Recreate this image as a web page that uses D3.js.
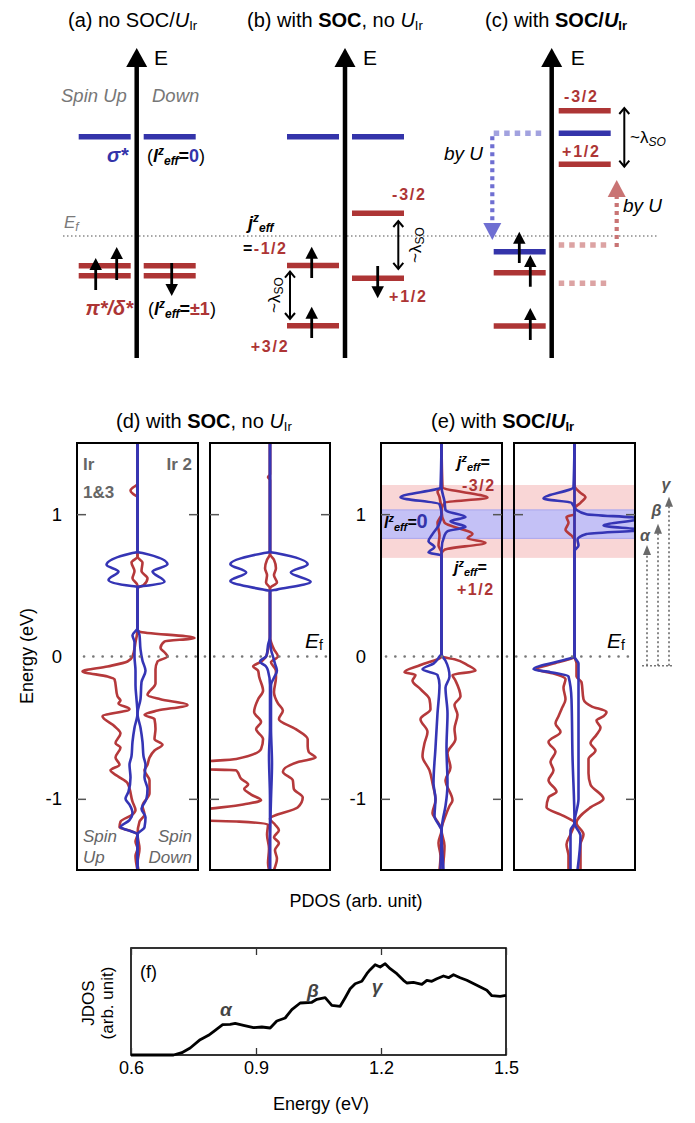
<!DOCTYPE html>
<html><head><meta charset="utf-8">
<script src="https://cdn.jsdelivr.net/npm/d3@7"></script>
<style>body{margin:0;background:#fff} svg{display:block} text{font-family:"Liberation Sans",Arial,Helvetica,sans-serif}</style>
</head><body><svg id="c" width="695" height="1123"></svg>
<script>
// ---------------- DATA ----------------
// Schematic level energies (arb. units, Ef = 0, sigma* = 1)  [side, energy, kind]
const levelsA = [["L",1.0,"b"],["R",1.0,"b"],["L",-0.30,"r"],["R",-0.30,"r"],["L",-0.40,"r"],["R",-0.40,"r"]];
const levelsB = [["L",1.0,"b"],["R",1.0,"b"],["R",0.229,"r"],["R",-0.426,"r"],["L",-0.297,"r"],["L",-0.903,"r"]];
const levelsC = [["R",1.262,"r"],["R",1.034,"b"],["R",0.722,"r"],["L",-0.158,"b"],["L",-0.370,"r"],["L",-0.906,"r"]];
const dashedC = [["L",1.034,"b"],["R",-0.091,"r"],["R",-0.476,"r"]];
// spin arrows: [offset from axis, E from, E to]
const spinA = [[-41,-0.544,-0.221],[-20,-0.443,-0.111],[35,-0.272,-0.604]];
const spinB = [[-33.3,-0.423,-0.108],[-33.3,-1.027,-0.712],[32.7,-0.302,-0.627]];
const spinC = [[-32.4,-0.272,0.043],[-21.4,-0.511,-0.191],[-21.4,-1.047,-0.725]];
const lambdaB = [[-55,-0.349,-0.846],[53.3,0.161,-0.342]];
const lambdaC = [[72.6,1.299,0.688]];
const byU = [[-59.4,1.034,-0.040,"b"],[65,-0.141,0.564,"r"]];
const axisE = [-1.229, 1.893];

// PDOS curves [energy eV, DOS arb.]  (spin up drawn to the left, spin down to the right)
const dIr13RedUp = [[1.5,0],[1.21,0],[1.19,4],[1.165,7],[1.14,4],[1.12,0],[0.70,0],[0.66,6],[0.6,3],[0.55,5],[0.50,0],[0.19,0],[0.10,2],[0.0,5],[-0.035,10],[-0.07,30],[-0.105,55],[-0.14,30],[-0.16,23],[-0.28,20],[-0.31,17],[-0.33,19],[-0.37,8],[-0.42,35],[-0.49,23],[-0.54,17],[-0.61,22],[-0.64,17],[-0.71,22],[-0.76,18],[-0.80,27],[-0.84,20],[-0.89,10],[-1.02,5],[-1.08,2],[-1.11,5],[-1.16,17],[-1.2,18],[-1.23,5],[-1.25,0],[-1.3,2],[-1.35,0],[-1.4,2],[-1.5,0]];
const dIr13RedDown = [[1.5,0],[0.70,0],[0.66,5],[0.6,4],[0.55,10],[0.5,6],[0.48,0],[0.19,0],[0.175,2],[0.13,57],[0.105,27],[0.06,23],[0.03,27],[0.0,30],[-0.035,20],[-0.09,18],[-0.19,18],[-0.27,10],[-0.30,23],[-0.34,50],[-0.38,20],[-0.41,7],[-0.44,17],[-0.51,18],[-0.58,17],[-0.62,25],[-0.66,17],[-0.71,12],[-0.76,10],[-0.80,7],[-0.87,12],[-0.96,12],[-1.05,5],[-1.11,7],[-1.16,2],[-1.25,0],[-1.35,2],[-1.45,0],[-1.5,1]];
const dIr13BlueUp = [[1.5,0],[0.735,0],[0.726,6],[0.644,31],[0.597,19],[0.538,29],[0.495,6],[0.49,0],[0.2,0],[0.15,5],[0.1,3],[0.0,3],[-0.1,2],[-0.2,2],[-0.3,1],[-0.4,0],[-0.5,3],[-0.6,5],[-0.7,6],[-0.76,8],[-0.85,7],[-0.95,9],[-1.0,12],[-1.04,8],[-1.1,5],[-1.15,8],[-1.2,17],[-1.22,10],[-1.25,0],[-1.5,0]];
const dIr13BlueDown = [[1.5,0],[0.735,0],[0.726,6],[0.648,30],[0.597,15],[0.526,27],[0.495,6],[0.49,0],[0.2,0],[0.15,2],[0.05,3],[-0.03,5],[-0.1,8],[-0.18,4],[-0.3,3],[-0.4,0],[-0.5,3],[-0.6,5],[-0.7,6],[-0.76,8],[-0.85,7],[-0.93,10],[-1.0,9],[-1.07,4],[-1.13,8],[-1.2,7],[-1.25,0],[-1.5,0]];

const dIr2RedUp = [[1.5,0],[1.28,0],[1.26,2],[1.24,0],[0.72,0],[0.68,3],[0.62,5],[0.57,3],[0.52,4],[0.48,0],[0.14,0],[0.05,2],[0.0,4],[-0.04,10],[-0.07,17],[-0.1,12],[-0.14,11],[-0.24,7],[-0.3,12],[-0.39,16],[-0.46,9],[-0.51,14],[-0.58,7],[-0.65,9],[-0.72,34],[-0.745,75],[-0.79,75],[-0.80,34],[-0.86,29],[-0.9,22],[-0.93,26],[-0.97,19],[-1.01,9],[-1.04,27],[-1.09,75],[-1.15,75],[-1.16,31],[-1.18,2],[-1.25,3],[-1.35,1],[-1.45,2],[-1.5,1]];
const dIr2RedDown = [[1.5,0],[0.72,0],[0.68,4],[0.62,6],[0.57,4],[0.52,7],[0.48,0],[0.14,0],[0.05,4],[0.0,8],[-0.04,1],[-0.1,6],[-0.15,6],[-0.25,4],[-0.33,8],[-0.38,13],[-0.44,9],[-0.51,26],[-0.58,38],[-0.63,38],[-0.67,39],[-0.71,46],[-0.74,29],[-0.81,13],[-0.87,23],[-0.93,24],[-0.99,33],[-1.06,28],[-1.14,0],[-1.18,5],[-1.22,9],[-1.27,4],[-1.31,9],[-1.36,5],[-1.42,7],[-1.5,4]];
const dIr2BlueUp = [[1.5,0],[0.735,0],[0.726,7],[0.649,40],[0.59,24],[0.53,40],[0.47,7],[0.46,0],[0.14,0],[0.08,2],[0.02,3],[0.0,4],[-0.035,10],[-0.07,4],[-0.1,2],[-0.2,0],[-0.5,0],[-0.7,1],[-1.0,0],[-1.5,0]];
const dIr2BlueDown = [[1.5,0],[0.735,0],[0.726,7],[0.649,38],[0.59,21],[0.525,41],[0.47,7],[0.46,0],[0.14,0],[0.05,1],[0.0,3],[-0.05,5],[-0.1,7],[-0.15,4],[-0.2,1],[-0.5,1],[-0.75,2],[-1.0,1],[-1.3,0],[-1.5,0]];

const eIr13RedUp = [[1.5,0],[1.19,0],[1.16,4],[1.12,2],[1.0,0],[0.94,4],[0.85,2],[0.78,3],[0.73,0],[0.0,0],[-0.06,21],[-0.11,37],[-0.13,26],[-0.17,29],[-0.23,21],[-0.30,12],[-0.37,11],[-0.44,21],[-0.53,14],[-0.61,17],[-0.70,19],[-0.80,12],[-0.89,9],[-1.01,6],[-1.1,9],[-1.16,4],[-1.22,0],[-1.31,3],[-1.4,1],[-1.5,2]];
const eIr13RedDown = [[1.5,0],[1.19,1],[1.115,46],[1.08,3],[1.02,0],[0.94,3],[0.86,31],[0.83,26],[0.80,44],[0.75,3],[0.72,0],[0.0,0],[-0.02,13],[-0.06,26],[-0.10,34],[-0.13,11],[-0.17,14],[-0.28,19],[-0.34,13],[-0.41,16],[-0.51,13],[-0.58,14],[-0.68,6],[-0.78,9],[-0.87,4],[-1.01,11],[-1.05,8],[-1.12,4],[-1.22,0],[-1.33,3],[-1.5,1]];
const eIr13BlueUp = [[1.5,0],[1.19,1],[1.118,41],[1.07,2],[1.0,0],[0.92,3],[0.86,9],[0.81,13],[0.77,7],[0.73,13],[0.71,0],[0.02,0],[0.0,2],[-0.05,8],[-0.09,19],[-0.13,4],[-0.2,2],[-0.4,4],[-0.64,6],[-0.89,8],[-1.0,6],[-1.12,7],[-1.19,2],[-1.22,0],[-1.5,1]];
const eIr13BlueDown = [[1.5,0],[1.19,0],[1.09,3],[1.03,4],[1.02,6],[0.98,24],[0.95,9],[0.91,24],[0.88,6],[0.85,3],[0.75,0],[0.02,0],[0.0,1],[-0.03,4],[-0.14,8],[-0.22,4],[-0.4,6],[-0.64,5],[-0.89,6],[-1.05,4],[-1.16,1],[-1.22,0],[-1.5,2]];

const eIr2RedUp = [[1.5,0],[1.0,0],[0.98,8],[0.94,6],[0.89,9],[0.85,3],[0.82,0],[0.0,0],[-0.05,21],[-0.09,38],[-0.12,21],[-0.16,9],[-0.22,11],[-0.3,9],[-0.37,13],[-0.42,16],[-0.47,19],[-0.53,14],[-0.60,26],[-0.67,19],[-0.74,24],[-0.80,21],[-0.87,26],[-0.95,18],[-0.99,26],[-1.06,28],[-1.12,11],[-1.17,0],[-1.25,4],[-1.32,8],[-1.4,6],[-1.5,6]];
const eIr2RedDown = [[1.5,0],[1.2,0],[1.15,6],[1.12,11],[1.08,6],[1.04,0],[0.0,0],[-0.05,2],[-0.14,2],[-0.18,7],[-0.3,9],[-0.35,17],[-0.39,32],[-0.42,29],[-0.45,22],[-0.5,26],[-0.55,22],[-0.61,16],[-0.66,21],[-0.72,14],[-0.82,14],[-0.9,16],[-1.0,29],[-1.06,16],[-1.17,2],[-1.25,9],[-1.32,6],[-1.5,6]];
const eIr2BlueUp = [[1.5,0],[1.19,1],[1.11,31],[1.08,3],[1.03,0],[0.02,0],[0.0,0],[-0.02,8],[-0.09,41],[-0.11,24],[-0.14,6],[-0.3,3],[-0.7,2],[-1.17,0],[-1.22,4],[-1.5,4]];
const eIr2BlueDown = [[1.5,0],[1.05,0],[1.03,2],[1.0,12],[0.97,66],[0.92,29],[0.89,66],[0.86,12],[0.82,3],[0.78,4],[0.74,0],[0.0,0],[-0.05,4],[-0.3,4],[-0.7,4],[-1.0,4],[-1.17,0],[-1.26,6],[-1.5,3]];

// bands in (e) [E top, E bottom, kind]
const bandsE = [[1.205,0.693,"pink"],[1.03,0.83,"blue"]];
// optical transitions alpha, beta, gamma: [E final]
const transBase = -0.065;
const transE = [0.784, 0.932, 1.122];
const transLab = ["α","β","γ"];

// JDOS
const jdosE = [0.6,0.702,0.722,0.742,0.766,0.786,0.802,0.820,0.838,0.85,0.870,0.894,0.914,0.934,0.950,0.970,0.986,1.006,1.034,1.046,1.066,1.082,1.102,1.114,1.126,1.138,1.154,1.166,1.174,1.186,1.198,1.210,1.222,1.238,1.254,1.262,1.278,1.298,1.310,1.322,1.334,1.350,1.362,1.374,1.390,1.406,1.430,1.454,1.466,1.486,1.5];
const jdosV = [0,0,0.023,0.07,0.153,0.197,0.247,0.303,0.307,0.317,0.297,0.273,0.28,0.27,0.34,0.37,0.453,0.52,0.527,0.557,0.573,0.497,0.487,0.573,0.663,0.713,0.737,0.813,0.853,0.903,0.88,0.913,0.863,0.813,0.747,0.72,0.727,0.707,0.747,0.737,0.763,0.79,0.773,0.803,0.773,0.747,0.697,0.647,0.593,0.587,0.597];
const jdosTicks = [0.6,0.9,1.2,1.5];
const pdosTicks = [-1,0,1];

// ---------------- DRAW ----------------
const RED = "#ad3535", BLUE = "#3434aa", PRED = "#b5393b", PBLUE = "#3535b5";
const svg = d3.select("#c");

function rich(parent, x, y, parts, base, transform) {
  const t = parent.append("text").attr("x", x).attr("y", y)
    .attr("font-size", base.size).attr("font-weight", base.w || "normal")
    .attr("font-style", base.i ? "italic" : "normal").attr("fill", base.c || "#000")
    .attr("text-anchor", base.anchor || "start");
  if (base.ls) t.attr("letter-spacing", base.ls);
  if (transform) t.attr("transform", transform);
  let cur = 0;
  parts.forEach(p => {
    if (typeof p === "string") p = {t: p};
    const sh = p.sh || 0;
    const ts = t.append("tspan").text(p.t);
    if (sh !== cur) { ts.attr("dy", sh - cur); cur = sh; }
    if (p.s) ts.attr("font-size", p.s);
    if (p.w) ts.attr("font-weight", p.w);
    if (p.i !== undefined) ts.attr("font-style", p.i ? "italic" : "normal");
    if (p.c) ts.attr("fill", p.c);
  });
  return t;
}
function arrow(g, x, y0, y1, color, lw, hw, hh, dash) {
  const dir = y1 < y0 ? -1 : 1;
  const l = g.append("line").attr("x1", x).attr("x2", x).attr("y1", y0).attr("y2", y1 - dir * hh * 0.9)
    .attr("stroke", color).attr("stroke-width", lw);
  if (dash) l.attr("stroke-dasharray", dash);
  g.append("path").attr("d", `M${x},${y1}L${x - hw / 2},${y1 - dir * hh}L${x + hw / 2},${y1 - dir * hh}Z`).attr("fill", color);
}
function dbl(g, x, y0, y1) {
  const a = Math.min(y0, y1), b = Math.max(y0, y1);
  g.append("line").attr("x1", x).attr("x2", x).attr("y1", a + 1).attr("y2", b - 1).attr("stroke", "#000").attr("stroke-width", 2);
  g.append("path").attr("d", `M${x - 5},${a + 7}L${x},${a + 1}L${x + 5},${a + 7}M${x - 5},${b - 7}L${x},${b - 1}L${x + 5},${b - 7}`)
    .attr("fill", "none").attr("stroke", "#000").attr("stroke-width", 2);
}

// --- schematic panels ---
const yS = d3.scaleLinear().domain([0, 1]).range([236, 136.7]);
const seg = (ax, side) => side === "L" ? [ax - 58, ax - 6] : [ax + 7, ax + 59];
const topG = svg.append("g");
// Ef dotted line
topG.append("line").attr("x1", 63).attr("x2", 658).attr("y1", yS(0)).attr("y2", yS(0))
  .attr("stroke", "#8a8a8a").attr("stroke-width", 1.3).attr("stroke-dasharray", "1.5,2.5");

const schem = [
  {ax: 136.7, lv: levelsA, sp: spinA, lam: []},
  {ax: 345, lv: levelsB, sp: spinB, lam: lambdaB},
  {ax: 551.7, lv: levelsC, sp: spinC, lam: lambdaC}
];
// dashed (c)
dashedC.forEach(d => {
  const s = seg(551.7, d[0]);
  topG.append("line").attr("x1", s[0]).attr("x2", s[1]).attr("y1", yS(d[1])).attr("y2", yS(d[1]))
    .attr("stroke", d[2] === "b" ? "#a2a2df" : "#dca3a3").attr("stroke-width", 5.5).attr("stroke-dasharray", "5.5,5");
});
byU.forEach(d => {
  const col = d[3] === "b" ? "#6f6fd2" : "#c97474";
  const x = 551.7 + d[0];
  arrow(topG, x, yS(d[1]) + (d[3] === "b" ? 3 : -3), yS(d[2]), col, 4.2, 18, 17, "4,4");
});
schem.forEach(p => {
  topG.append("line").attr("x1", p.ax).attr("x2", p.ax).attr("y1", yS(axisE[0])).attr("y2", yS(axisE[1]) + 16)
    .attr("stroke", "#000").attr("stroke-width", 4.5);
  topG.append("path").attr("d", `M${p.ax},${yS(axisE[1])}L${p.ax - 10.5},${yS(axisE[1]) + 19}L${p.ax + 10.5},${yS(axisE[1]) + 19}Z`).attr("fill", "#000");
  p.lv.forEach(d => {
    const s = seg(p.ax, d[0]);
    topG.append("line").attr("x1", s[0]).attr("x2", s[1]).attr("y1", yS(d[1])).attr("y2", yS(d[1]))
      .attr("stroke", d[2] === "b" ? BLUE : RED).attr("stroke-width", 5.5);
  });
  p.sp.forEach(d => arrow(topG, p.ax + d[0], yS(d[1]), yS(d[2]), "#000", 2.8, 12.5, 12));
  p.lam.forEach(d => dbl(topG, p.ax + d[0], yS(d[1]), yS(d[2])));
});

// titles
rich(svg, 68, 27, ["(a) no SOC/", {t: "U", i: true}, {t: "Ir", s: 13, sh: 3}], {size: 20});
rich(svg, 247, 27, ["(b) with ", {t: "SOC", w: "bold"}, ", no ", {t: "U", i: true}, {t: "Ir", s: 13, sh: 3}], {size: 20});
rich(svg, 485, 27, ["(c) with ", {t: "SOC/", w: "bold"}, {t: "U", w: "bold", i: true}, {t: "Ir", w: "bold", s: 13, sh: 3}], {size: 20});
[154, 363, 570.7].forEach(x => rich(svg, x, 65, ["E"], {size: 21}));
// (a) labels
rich(svg, 61, 102, ["Spin Up"], {size: 18.5, i: true, c: "#777"});
rich(svg, 152, 102, ["Down"], {size: 18.5, i: true, c: "#777"});
rich(svg, 128, 162, ["σ*"], {size: 20, w: "bold", i: true, c: BLUE, anchor: "end"});
rich(svg, 147, 162, ["(", {t: "l", w: "bold", i: true}, {t: "z", w: "bold", i: true, s: 12, sh: -7}, {t: "eff", w: "bold", i: true, s: 12, sh: 3}, {t: "=", w: "bold"}, {t: "0", w: "bold", c: BLUE}, ")"], {size: 18});
rich(svg, 64, 228, ["E", {t: "f", s: 12, sh: 3}], {size: 17, i: true, c: "#7a7a7a"});
rich(svg, 133, 315, ["π*/δ*"], {size: 20, w: "bold", i: true, c: RED, anchor: "end"});
rich(svg, 148, 315, ["(", {t: "l", w: "bold", i: true}, {t: "z", w: "bold", i: true, s: 12, sh: -7}, {t: "eff", w: "bold", i: true, s: 12, sh: 3}, {t: "=", w: "bold"}, {t: "±1", w: "bold", c: RED}, ")"], {size: 18});
// (b) labels
rich(svg, 392, 200, ["-3/2"], {size: 16, w: "bold", c: RED, ls: 1.8});
rich(svg, 389, 302, ["+1/2"], {size: 16, w: "bold", c: RED, ls: 1.8});
rich(svg, 250.7, 352, ["+3/2"], {size: 16, w: "bold", c: RED, ls: 1.8});
rich(svg, 248, 229, [{t: "j"}, {t: "z", s: 12, sh: -7}, {t: "eff", s: 12, sh: 3}], {size: 18, w: "bold", i: true});
rich(svg, 243, 254, [{t: "="}, {t: "-1/2", c: RED}], {size: 16, w: "bold", ls: 1.5});
rich(svg, 0, 0, ["~λ", {t: "SO", s: 12, sh: 3}], {size: 17, anchor: "middle"}, "translate(280,295) rotate(-90)");
rich(svg, 0, 0, ["~λ", {t: "SO", s: 12, sh: 3}], {size: 17, anchor: "middle"}, "translate(421,245) rotate(-90)");
// (c) labels
rich(svg, 564, 102, ["-3/2"], {size: 16, w: "bold", c: RED, ls: 1.8});
rich(svg, 562, 157, ["+1/2"], {size: 16, w: "bold", c: RED, ls: 1.8});
rich(svg, 630, 143, ["~λ", {t: "SO", s: 12, i: true, sh: 3}], {size: 17});
rich(svg, 483, 160, ["by U"], {size: 19, i: true, anchor: "end"});
rich(svg, 623, 212, ["by U"], {size: 19, i: true});

// --- PDOS panels ---
const yP = d3.scaleLinear().domain([-1.5, 1.5]).range([870, 443]);
const boxes = [
  {x0: 77, x1: 198, s: [dIr13RedUp, dIr13RedDown, dIr13BlueUp, dIr13BlueDown], lab: true},
  {x0: 210, x1: 330, s: [dIr2RedUp, dIr2RedDown, dIr2BlueUp, dIr2BlueDown]},
  {x0: 381, x1: 502, s: [eIr13RedUp, eIr13RedDown, eIr13BlueUp, eIr13BlueDown], lab: true},
  {x0: 514, x1: 635, s: [eIr2RedUp, eIr2RedDown, eIr2BlueUp, eIr2BlueDown]}
];
const pg = svg.append("g");
// bands (e)
bandsE.forEach(b => {
  pg.append("rect").attr("x", 381).attr("width", 635 - 381).attr("y", yP(b[0])).attr("height", yP(b[1]) - yP(b[0]))
    .attr("fill", b[2] === "pink" ? "#f9d6d6" : "#c4c1f6").attr("stroke", b[2] === "pink" ? "none" : "#aaa6ee").attr("stroke-width", 1);
});
boxes.forEach((b, i) => {
  const xs = d3.scaleLinear().domain([-60.5, 60.5]).range([b.x0, b.x1]);
  const cid = "clip" + i;
  svg.append("clipPath").attr("id", cid).append("rect").attr("x", b.x0).attr("y", 443).attr("width", b.x1 - b.x0).attr("height", 427);
  const g = pg.append("g").attr("clip-path", `url(#${cid})`);
  b.s.forEach((arr, k) => {
    const sign = (k % 2 === 0) ? -1 : 1;
    const line = d3.line().x(d => xs(sign * d[1])).y(d => yP(d[0])).curve(d3.curveMonotoneY);
    g.append("path").attr("d", line(arr)).attr("fill", "none")
      .attr("stroke", k < 2 ? PRED : PBLUE).attr("stroke-width", 2.6).attr("stroke-linejoin", "round");
  });
  pg.append("rect").attr("x", b.x0).attr("y", 443).attr("width", b.x1 - b.x0).attr("height", 427)
    .attr("fill", "none").attr("stroke", "#000").attr("stroke-width", 2);
  const al = d3.axisLeft(yP).tickValues(pdosTicks).tickSize(-9).tickPadding(15).tickFormat(b.lab ? (d => String(d)) : "");
  const gl = pg.append("g").attr("transform", `translate(${b.x0},0)`).call(al);
  const ar = d3.axisRight(yP).tickValues(pdosTicks).tickSize(-9).tickFormat("");
  const gr = pg.append("g").attr("transform", `translate(${b.x1},0)`).call(ar);
  [gl, gr].forEach(gg => {
    gg.select(".domain").remove();
    gg.selectAll(".tick line").attr("stroke", "#555").attr("stroke-width", 1.5);
    gg.selectAll(".tick").filter(d => d === 0).select("line").remove();
    gg.selectAll("text").attr("font-size", 18.5).attr("fill", "#000").attr("font-family", '"Liberation Sans",Arial,sans-serif');
  });
});
// zero lines
[[84, 330], [386, 633]].forEach(s => {
  pg.append("line").attr("x1", s[0]).attr("x2", s[1]).attr("y1", yP(0)).attr("y2", yP(0))
    .attr("stroke", "#777").attr("stroke-width", 2.6).attr("stroke-linecap", "round").attr("stroke-dasharray", "0.1,9.2");
});
// transitions
const tx = [647, 658, 669];
pg.append("line").attr("x1", 642).attr("x2", 674).attr("y1", yP(transBase)).attr("y2", yP(transBase))
  .attr("stroke", "#777").attr("stroke-width", 1.6).attr("stroke-dasharray", "2,2");
transE.forEach((e, i) => {
  arrow(pg, tx[i], yP(transBase), yP(e), "#6a6a6a", 1.6, 8, 10, "2,2.5");
});
rich(svg, 645, 541, [transLab[0]], {size: 16, w: "bold", i: true, c: "#555", anchor: "middle"});
rich(svg, 656.5, 516, [transLab[1]], {size: 16, w: "bold", i: true, c: "#555", anchor: "middle"});
rich(svg, 666, 490, [transLab[2]], {size: 16, w: "bold", i: true, c: "#555", anchor: "middle"});

// titles and labels
rich(svg, 116, 428, ["(d) with ", {t: "SOC", w: "bold"}, ", no ", {t: "U", i: true}, {t: "Ir", s: 13, sh: 3}], {size: 20});
rich(svg, 431, 428, ["(e) with ", {t: "SOC/", w: "bold"}, {t: "U", w: "bold", i: true}, {t: "Ir", w: "bold", s: 13, sh: 3}], {size: 20});
rich(svg, 83, 470, ["Ir"], {size: 17, w: "bold", c: "#666"});
rich(svg, 83, 498, ["1&3"], {size: 17, w: "bold", c: "#666"});
rich(svg, 192, 470, ["Ir 2"], {size: 17, w: "bold", c: "#666", anchor: "end"});
rich(svg, 83, 842, ["Spin"], {size: 17, i: true, c: "#666"});
rich(svg, 83, 863, ["Up"], {size: 17, i: true, c: "#666"});
rich(svg, 192, 842, ["Spin"], {size: 17, i: true, c: "#666", anchor: "end"});
rich(svg, 192, 863, ["Down"], {size: 17, i: true, c: "#666", anchor: "end"});
rich(svg, 305, 648, [{t: "E", i: true}, {t: "f", s: 14, sh: 2}], {size: 21});
rich(svg, 607, 648, [{t: "E", i: true}, {t: "f", s: 14, sh: 2}], {size: 21});
rich(svg, 457, 468, [{t: "j"}, {t: "z", s: 11, sh: -6}, {t: "eff", s: 11, sh: 3}, {t: "=", sh: 0}], {size: 16, w: "bold", i: true});
rich(svg, 462, 491, ["-3/2"], {size: 16, w: "bold", c: RED, ls: 1.5});
rich(svg, 454, 573, [{t: "j"}, {t: "z", s: 11, sh: -6}, {t: "eff", s: 11, sh: 3}, {t: "=", sh: 0}], {size: 16, w: "bold", i: true});
rich(svg, 457, 595, ["+1/2"], {size: 16, w: "bold", c: RED, ls: 1.5});
rich(svg, 384, 528, [{t: "l"}, {t: "z", s: 11, sh: -6}, {t: "eff", s: 11, sh: 3}, {t: "=", sh: 0}, {t: "0", c: BLUE, s: 20, i: false}], {size: 16, w: "bold", i: true});
rich(svg, 356, 907, ["PDOS (arb. unit)"], {size: 18, anchor: "middle"});
rich(svg, 0, 0, ["Energy (eV)"], {size: 18, anchor: "middle"}, "translate(33,656) rotate(-90)");

// --- JDOS ---
const xJ = d3.scaleLinear().domain([0.6, 1.5]).range([131, 506]);
const yJ = d3.scaleLinear().domain([0, 1.07]).range([1055, 948]);
const jg = svg.append("g");
jg.append("rect").attr("x", 131).attr("y", 948).attr("width", 375).attr("height", 107).attr("fill", "none").attr("stroke", "#000").attr("stroke-width", 1.6);
const jb = jg.append("g").attr("transform", "translate(0,1055)")
  .call(d3.axisBottom(xJ).tickValues(jdosTicks).tickSize(-7).tickPadding(6).tickFormat(d3.format(".1f")));
const jt = jg.append("g").attr("transform", "translate(0,948)")
  .call(d3.axisTop(xJ).tickValues(jdosTicks).tickSize(-7).tickFormat(""));
[jb, jt].forEach(gg => {
  gg.select(".domain").remove();
  gg.selectAll(".tick line").attr("stroke", "#333").attr("stroke-width", 1.3);
  gg.selectAll("text").attr("font-size", 18).attr("fill", "#000").attr("font-family", '"Liberation Sans",Arial,sans-serif');
});
jg.append("path").attr("d", d3.line().x((d, i) => xJ(d)).y((d, i) => yJ(jdosV[i]))(jdosE))
  .attr("fill", "none").attr("stroke", "#000").attr("stroke-width", 2.8).attr("stroke-linejoin", "round");
rich(svg, 140, 978, ["(f)"], {size: 18});
rich(svg, 226, 1016, ["α"], {size: 19, w: "bold", i: true, c: "#444", anchor: "middle"});
rich(svg, 313, 997, ["β"], {size: 19, w: "bold", i: true, c: "#444", anchor: "middle"});
rich(svg, 377, 993, ["γ"], {size: 19, w: "bold", i: true, c: "#444", anchor: "middle"});
rich(svg, 321, 1110, ["Energy (eV)"], {size: 18, anchor: "middle"});
rich(svg, 0, 0, ["JDOS"], {size: 17, anchor: "middle"}, "translate(94,1003) rotate(-90)");
rich(svg, 0, 0, ["(arb. unit)"], {size: 17, anchor: "middle"}, "translate(113,1003) rotate(-90)");
</script></body></html>
